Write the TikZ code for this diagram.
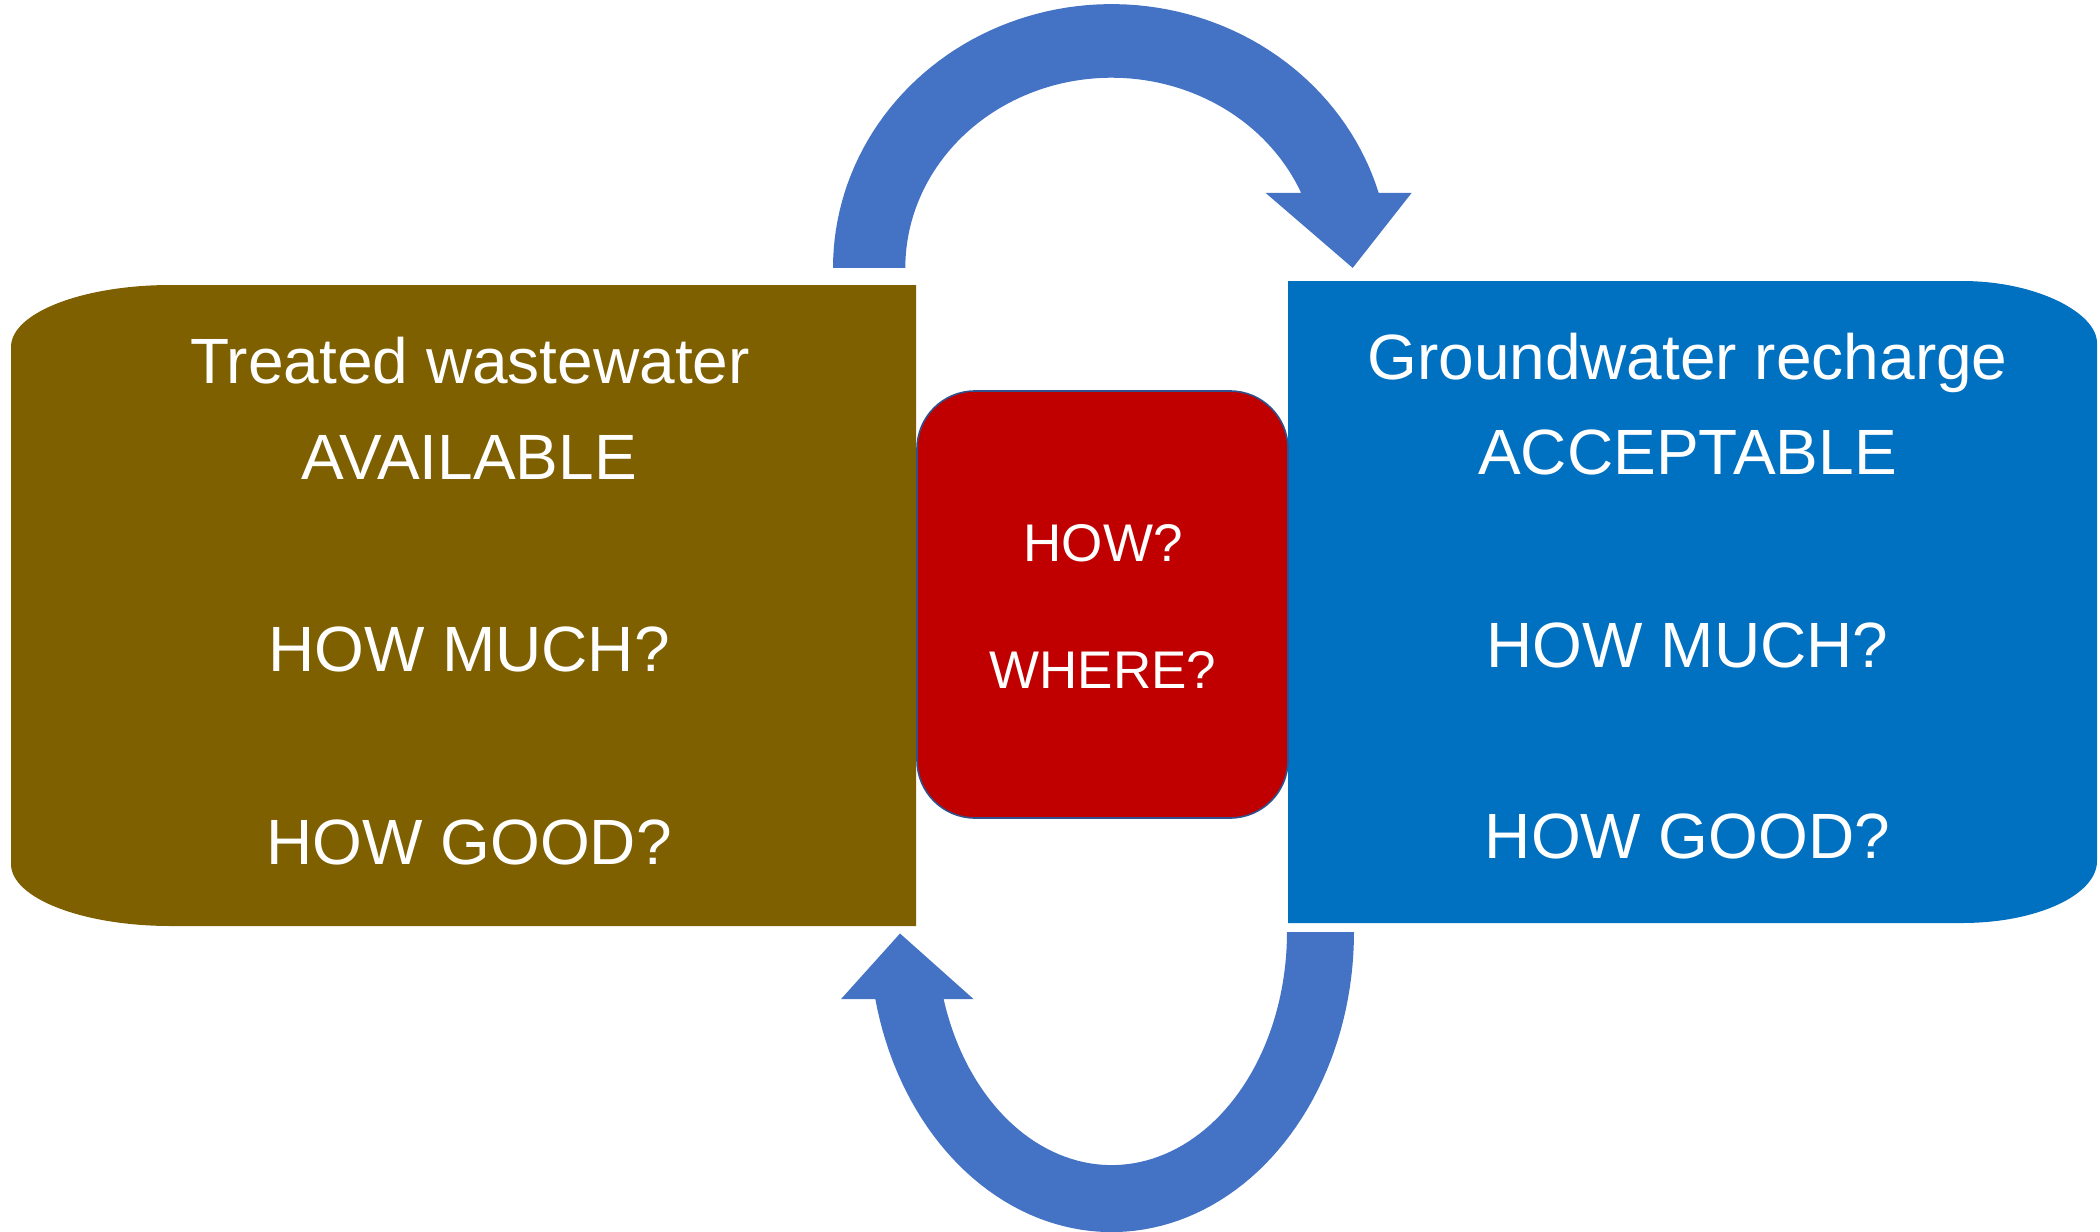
\documentclass[tikz,border=0pt]{standalone}
\usepackage{fontspec}
\setmainfont{Liberation Sans}
\begin{document}
\definecolor{wasteBrown}{HTML}{7F6000}
\definecolor{rechargeBlue}{HTML}{0070C0}
\definecolor{centreRed}{HTML}{C00000}
\definecolor{cycleBlue}{HTML}{4472C4}
\definecolor{rimBlue}{HTML}{2F528F}
\begin{tikzpicture}[x=0.5pt,y=-0.5pt,
  bigtext/.style={text=white,font=\fontsize{32}{38}\selectfont,anchor=base,inner sep=0pt},
  midtext/.style={text=white,font=\fontsize{26.5}{32}\selectfont,anchor=base,inner sep=0pt},
  midbox/.style={rectangle,rounded corners=29pt,fill=centreRed,draw=rimBlue,line width=0.8pt,
    minimum width=185.5pt,minimum height=213.5pt,inner sep=0pt}]
\useasboundingbox (0,0) rectangle (2100,1232);
\fill[white] (0,0) rectangle (2100,1232);

% left store: treated wastewater (rounded on the left side only)
\fill[wasteBrown] (916,285) -- (171,285) .. controls (82.6,285) and (11,312.8) .. (11,347)
  -- (11,864) .. controls (11,898.2) and (82.6,926) .. (171,926) -- (916,926) -- cycle;

% right store: groundwater recharge (rounded on the right side only)
\fill[rechargeBlue] (1288,281) -- (1962,281) .. controls (2036.4,281) and (2097,312.8) .. (2097,343)
  -- (2097,861) .. controls (2097,895.2) and (2036.4,923) .. (1962,923) -- (1288,923) -- cycle;

% centre question box
\node[midbox] (mid) at (1102.5,604.5) {};

% upper curved arrow, left store -> right store
\coordinate (topstart) at (869,267.9);
\coordinate (toptip) at (1352.7,267.9);
\fill[cycleBlue] (833,267.9)
  -- plot[domain=180:16.5,samples=80] ({1111.6+278.6*cos(\x)},{267.9-263.8*sin(\x)})
  -- (1411.6,192.9) -- (toptip) -- (1265.6,192.9)
  -- plot[domain=23.2:180,samples=80] ({1111.6+206.3*cos(\x)},{267.9-190.2*sin(\x)})
  -- cycle;

% lower curved arrow, right store -> left store
\coordinate (botstart) at (1320.5,932.1);
\coordinate (bottip) at (900,933.5);
\fill[cycleBlue] (1354,932.1)
  -- plot[domain=0:-167.1,samples=80] ({1111.6+242.4*cos(\x)},{932.1-300*sin(\x)})
  -- (841,999.1) -- (bottip) -- (973.6,999.1)
  -- plot[domain=-163.3:0,samples=80] ({1111.6+175.4*cos(\x)},{932.1-233*sin(\x)})
  -- cycle;

% texts of the left store
\node[bigtext] (lt1) at (470,383) {Treated wastewater};
\node[bigtext] (lt2) at (469,479.5) {AVAILABLE};
\node[bigtext] (lt3) at (469,671) {HOW MUCH?};
\node[bigtext] (lt4) at (469,864) {HOW GOOD?};

% texts of the right store
\node[bigtext] (rt1) at (1687.5,379) {Groundwater recharge};
\node[bigtext] (rt2) at (1687.5,474) {ACCEPTABLE};
\node[bigtext] (rt3) at (1687.5,667) {HOW MUCH?};
\node[bigtext] (rt4) at (1687.5,858) {HOW GOOD?};

% texts of the centre box
\node[midtext] (m1) at (1103,561) {HOW?};
\node[midtext] (m2) at (1103,688) {WHERE?};
\end{tikzpicture}
\end{document}
